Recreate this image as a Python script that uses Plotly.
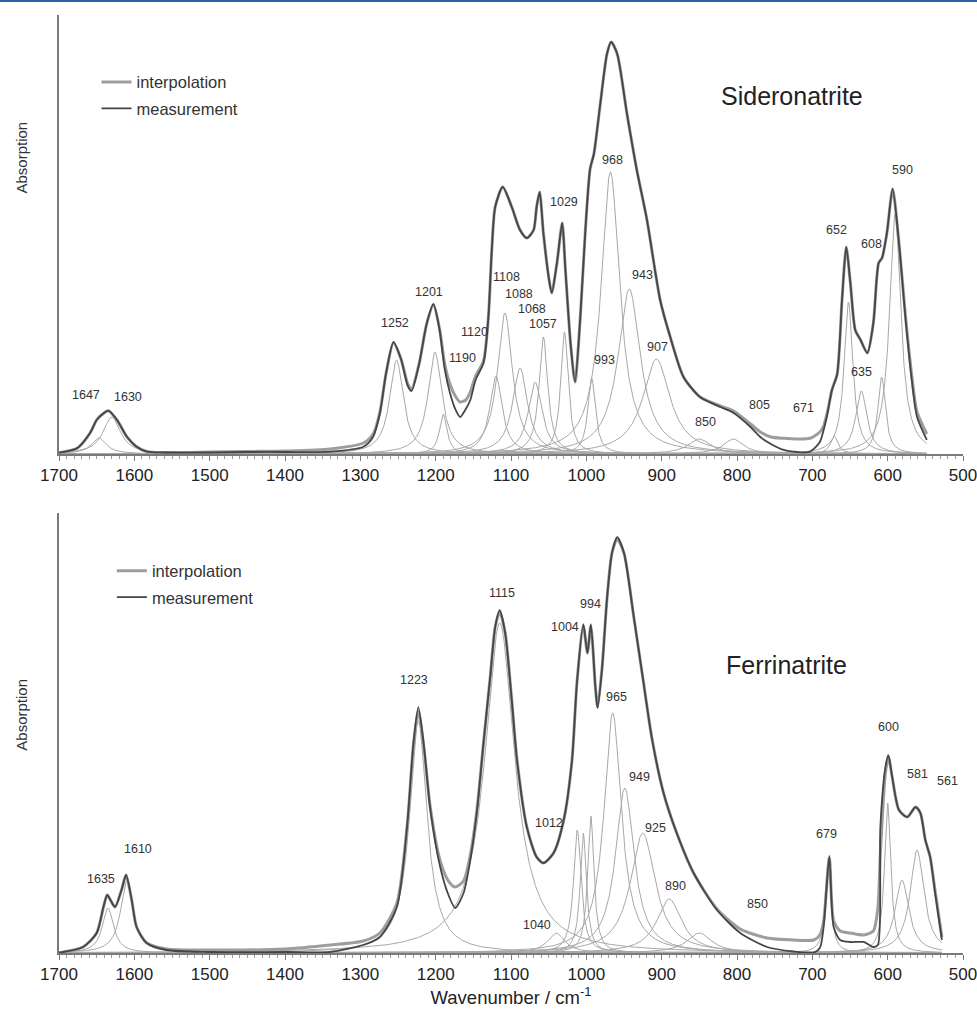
import numpy as np
import plotly.graph_objects as go

# ================= Sideronatrite (upper panel) =================
sid_meas_wn = [1700, 1676, 1659, 1650, 1642, 1634.5, 1623, 1610, 1597, 1583, 1560, 1500, 1450, 1400,
               1340, 1296, 1283, 1274, 1266, 1256, 1246, 1237, 1232, 1222, 1212, 1203, 1195, 1188,
               1181, 1174, 1167.5, 1160, 1154, 1147, 1136.5, 1130, 1125.5, 1121, 1111, 1099, 1088,
               1079, 1070, 1066, 1062, 1057, 1050, 1046, 1039, 1032, 1028, 1021, 1015, 1008, 1001.5,
               995, 990, 981.5, 972.6, 967, 959, 946, 933, 919.5, 902, 888.6, 871, 849, 822, 804.5,
               782, 769, 755, 738, 720, 703, 690, 685, 680, 674, 667, 660.6, 655, 649.5, 643, 636,
               627, 619, 612, 607.5, 601, 593.4, 585, 576.5, 567.6, 561, 548]
sid_meas_abs = [1.3, 5.7, 20.7, 34, 40, 43.3, 34, 17.3, 7.3, 2.3, 1.5, 1.5, 2, 2,
                2.3, 7.3, 17.3, 40.7, 80, 112, 95, 68, 63, 90, 130, 150, 125, 85,
                61, 45, 37, 45, 54, 74, 91, 137, 204, 247, 267, 247, 224,
                216, 224, 247, 262, 221, 177, 161, 191, 231, 187, 111, 72, 137, 221,
                285, 300, 350, 400, 412, 400, 340, 284, 234, 154, 117, 77, 57, 47, 41,
                27, 17, 10, 4, 2, 2.3, 12, 24, 40, 64, 80, 154, 207, 171, 124, 114,
                101, 131, 191, 196, 221, 265, 211, 137, 71, 37, 14]
sid_interp_wn = sid_meas_wn
sid_interp_abs = [1.3, 5.7, 20.7, 34, 40, 43.3, 34, 17.3, 7.3, 2.3, 1.5, 2, 2.5, 3,
                  5, 11, 20, 42, 80, 111, 95, 70, 65, 90, 130, 149, 126, 90,
                  70, 58, 52, 54, 62, 78, 93, 137, 204, 247, 267, 247, 224,
                  216, 224, 247, 262, 221, 177, 161, 191, 231, 187, 111, 72, 137, 221,
                  285, 300, 350, 400, 412, 400, 340, 284, 234, 154, 117, 77, 57, 48, 43,
                  30, 22, 17, 15.7, 15, 15.7, 22, 28, 42, 64, 80, 154, 207, 171, 124, 114,
                  101, 131, 191, 196, 221, 265, 211, 139, 76, 42, 20]

sid_band_center = [1647, 1630, 1252, 1201, 1190, 1120, 1108, 1088, 1068, 1057, 1029,
                   993, 968, 943, 907, 850, 805, 671, 652, 635, 608, 590]
sid_band_height = [16, 37, 94, 102, 40, 78, 141, 86, 72, 117, 122,
                   76, 282, 165, 95, 15, 15, 18, 152, 63, 77, 240]
sid_band_hwhm = [12, 14, 11, 11, 6, 10, 12, 12, 11, 7, 6,
                 6, 15, 18, 22, 18, 16, 6, 7, 9, 6, 9]

# ================= Ferrinatrite (lower panel) =================
fer_meas_wn = [1700, 1668, 1650, 1641, 1636, 1631, 1625.6, 1617, 1611, 1603.5, 1597, 1583.5, 1557,
               1500, 1400, 1340, 1296, 1274, 1251.5, 1238, 1229.5, 1223, 1216, 1207, 1194, 1183,
               1174, 1163, 1154, 1145, 1136.5, 1127.6, 1121, 1115, 1107.7, 1099, 1092, 1079, 1066,
               1057, 1043.5, 1030, 1019, 1012.5, 1004, 998.5, 994, 988, 985, 979, 972.7, 966, 959,
               950, 937, 924, 913, 897.5, 880, 857.6, 826.6, 795.6, 760, 725, 698, 690, 685, 677.4,
               671.7, 663, 649.5, 632, 619, 613, 609.7, 603, 599, 594, 585, 574, 563, 556.5, 550,
               543.6, 537, 528]
fer_meas_abs = [0.3, 6, 20, 46, 58, 52, 46, 63, 78, 53, 26, 10, 3,
                1, 1, 1, 8, 16, 46, 126, 210, 246, 210, 143, 86, 58,
                45, 60, 93, 143, 210, 276, 326, 343, 320, 253, 193, 126, 96,
                90, 100, 133, 193, 270, 329, 300, 329, 266, 245, 286, 353, 400, 416,
                400, 336, 270, 215, 160, 120, 80, 43, 20, 6, 1.5, 0.5, 5, 26, 97,
                26, 13, 11, 11, 6, 8, 126, 186, 198, 176, 143, 136, 146, 140, 113,
                96, 60, 13]
fer_interp_wn = fer_meas_wn
fer_interp_abs = [0.3, 6, 20, 46, 58, 52, 46, 63, 78, 53, 26, 10, 4,
                  3, 4, 8, 12, 20, 50, 126, 208, 242, 208, 145, 92, 72,
                  66, 72, 98, 145, 210, 276, 326, 341, 320, 253, 193, 126, 96,
                  90, 100, 133, 193, 270, 327, 300, 327, 266, 246, 286, 353, 400, 414,
                  400, 336, 270, 215, 160, 120, 80, 44, 24, 15, 13, 13, 18, 32, 95,
                  32, 22, 20, 18, 22, 45, 100, 180, 196, 176, 143, 136, 146, 140, 113,
                  96, 62, 16]

fer_band_center = [1635, 1610, 1223, 1115, 1040, 1012, 1004, 994, 965, 949, 925,
                   890, 850, 679, 600, 581, 561]
fer_band_height = [45, 72, 232, 330, 20, 123, 120, 137, 240, 165, 120,
                   54, 20, 95, 150, 73, 103]
fer_band_hwhm = [9, 10, 14, 24, 14, 6, 5, 5, 14, 15, 20,
                 20, 20, 4.5, 5, 11, 11]

tick_values = list(range(1700, 499, -100))
tick_labels = [str(v) for v in tick_values]

# ---------------- styling ----------------
FONT = "Liberation Sans, Arial, sans-serif"
COMP_COLOR = "#a8a8a8"
INTERP_COLOR = "#9d9d9d"
MEAS_COLOR = "#454545"
AXIS_COLOR = "#7a7a7a"


def band(x, c, a, w):
    return a / (1.0 + ((x - c) / w) ** 2)


fig = go.Figure()


def add_panel(xa, ya, centers, heights, widths, x_end, mwn, mabs, iwn, iabs, legend):
    grid = np.arange(1700, x_end - 0.01, -0.5)
    for c, a, w in zip(centers, heights, widths):
        fig.add_trace(go.Scatter(x=grid, y=band(grid, c, a, w), mode="lines",
                                 line=dict(color=COMP_COLOR, width=1),
                                 xaxis=xa, yaxis=ya, showlegend=False, hoverinfo="skip"))
    fig.add_trace(go.Scatter(x=iwn, y=iabs, mode="lines", name="interpolation",
                             line=dict(color=INTERP_COLOR, width=3, shape="spline", smoothing=0.7),
                             xaxis=xa, yaxis=ya, legend=legend, legendgroup=legend + "i"))
    fig.add_trace(go.Scatter(x=mwn, y=mabs, mode="lines", name="measurement",
                             line=dict(color=MEAS_COLOR, width=1.8, shape="spline", smoothing=0.7),
                             xaxis=xa, yaxis=ya, legend=legend, legendgroup=legend + "m"))


add_panel("x", "y", sid_band_center, sid_band_height, sid_band_hwhm, 548,
          sid_meas_wn, sid_meas_abs, sid_interp_wn, sid_interp_abs, "legend")
add_panel("x2", "y2", fer_band_center, fer_band_height, fer_band_hwhm, 528,
          fer_meas_wn, fer_meas_abs, fer_interp_wn, fer_interp_abs, "legend2")

# peak labels (position of each label text)
sid_label_pos = [("1647", 1664, 59), ("1630", 1609, 57), ("1252", 1254, 131), ("1201", 1209, 162),
                 ("1190", 1164, 96), ("1120", 1149, 122), ("1108", 1106, 177), ("1088", 1089, 160),
                 ("1068", 1072, 145), ("1057", 1057, 130), ("1029", 1029, 252), ("968", 965, 294),
                 ("993", 976, 94), ("943", 926, 179), ("907", 905, 107), ("850", 842, 32),
                 ("805", 770, 49), ("671", 712, 46), ("652", 668, 224), ("608", 622, 210),
                 ("635", 635, 82), ("590", 580, 284)]
fer_label_pos = [("1635", 1644, 74), ("1610", 1595, 104), ("1223", 1229, 273), ("1115", 1112, 360),
                 ("1004", 1028, 326), ("994", 995, 349), ("965", 960, 256), ("949", 929, 176),
                 ("925", 908, 125), ("1012", 1050, 130), ("1040", 1065, 28), ("890", 882, 67),
                 ("850", 773, 49), ("679", 681, 119), ("600", 599, 226), ("581", 561, 179),
                 ("561", 521, 172)]

annotations = []
for t, x, y in sid_label_pos:
    annotations.append(dict(text=t, x=x, y=y, xref="x", yref="y", showarrow=False,
                            xanchor="center", yanchor="middle",
                            font=dict(size=12.5, color="#333", family=FONT)))
for t, x, y in fer_label_pos:
    annotations.append(dict(text=t, x=x, y=y, xref="x2", yref="y2", showarrow=False,
                            xanchor="center", yanchor="middle",
                            font=dict(size=12.5, color="#333", family=FONT)))

annotations += [
    dict(text="Sideronatrite", x=0.811, y=0.914, xref="paper", yref="paper", showarrow=False,
         xanchor="center", yanchor="middle", font=dict(size=25, color="#222", family=FONT)),
    dict(text="Ferrinatrite", x=0.805, y=0.307, xref="paper", yref="paper", showarrow=False,
         xanchor="center", yanchor="middle", font=dict(size=25, color="#222", family=FONT)),
    dict(text="Absorption", x=-0.041, y=0.848, xref="paper", yref="paper", showarrow=False,
         xanchor="center", yanchor="middle",
         textangle=-90, font=dict(size=15, color="#333", family=FONT)),
    dict(text="Absorption", x=-0.041, y=0.254, xref="paper", yref="paper", showarrow=False,
         xanchor="center", yanchor="middle",
         textangle=-90, font=dict(size=15, color="#333", family=FONT)),
]

xaxis_common = dict(range=[1700, 500], showline=True, linecolor=AXIS_COLOR, linewidth=1.5,
                    ticks="outside", ticklen=5, tickcolor=AXIS_COLOR, tickwidth=1,
                    tickvals=tick_values, ticktext=tick_labels, ticklabeloverflow="allow",
                    minor=dict(dtick=10, ticks="outside", ticklen=3, tickcolor="#9a9a9a"),
                    showgrid=False, zeroline=False,
                    tickfont=dict(size=17, color="#222", family=FONT))
yaxis_common = dict(showline=True, linecolor=AXIS_COLOR, linewidth=1.5, showticklabels=False,
                    ticks="", showgrid=False, zeroline=False)

legend_common = dict(bgcolor="rgba(0,0,0,0)", font=dict(size=16.5, color="#333", family=FONT),
                     tracegroupgap=2, xanchor="left", yanchor="top", itemwidth=30)

fig.update_layout(
    width=977, height=1009,
    margin=dict(l=59, r=14, t=15, b=56, autoexpand=False),
    paper_bgcolor="white", plot_bgcolor="white",
    xaxis=dict(domain=[0, 1], anchor="y", **xaxis_common),
    yaxis=dict(domain=[0.532, 1], range=[0, 439], anchor="x", **yaxis_common),
    xaxis2=dict(domain=[0, 1], anchor="y2",
                title=dict(text="Wavenumber / cm<sup>-1</sup>", standoff=2,
                           font=dict(size=18.5, color="#222", family=FONT)),
                **xaxis_common),
    yaxis2=dict(domain=[0, 0.469], range=[0, 440], anchor="x2", **yaxis_common),
    legend=dict(x=0.0415, y=0.947, **legend_common),
    legend2=dict(x=0.0585, y=0.426, **legend_common),
    annotations=annotations,
    shapes=[dict(type="line", xref="paper", yref="paper", x0=-0.0653, x1=1.0155,
                 y0=1.0149, y1=1.0149, line=dict(color="#2a62a8", width=2))],
    font=dict(family=FONT),
)

# remove the default 8px page margin so the figure fills the window exactly
fig.write_html("out.html", config={"displayModeBar": False},
               post_script="document.body.style.margin='0';document.body.style.overflow='hidden';")
